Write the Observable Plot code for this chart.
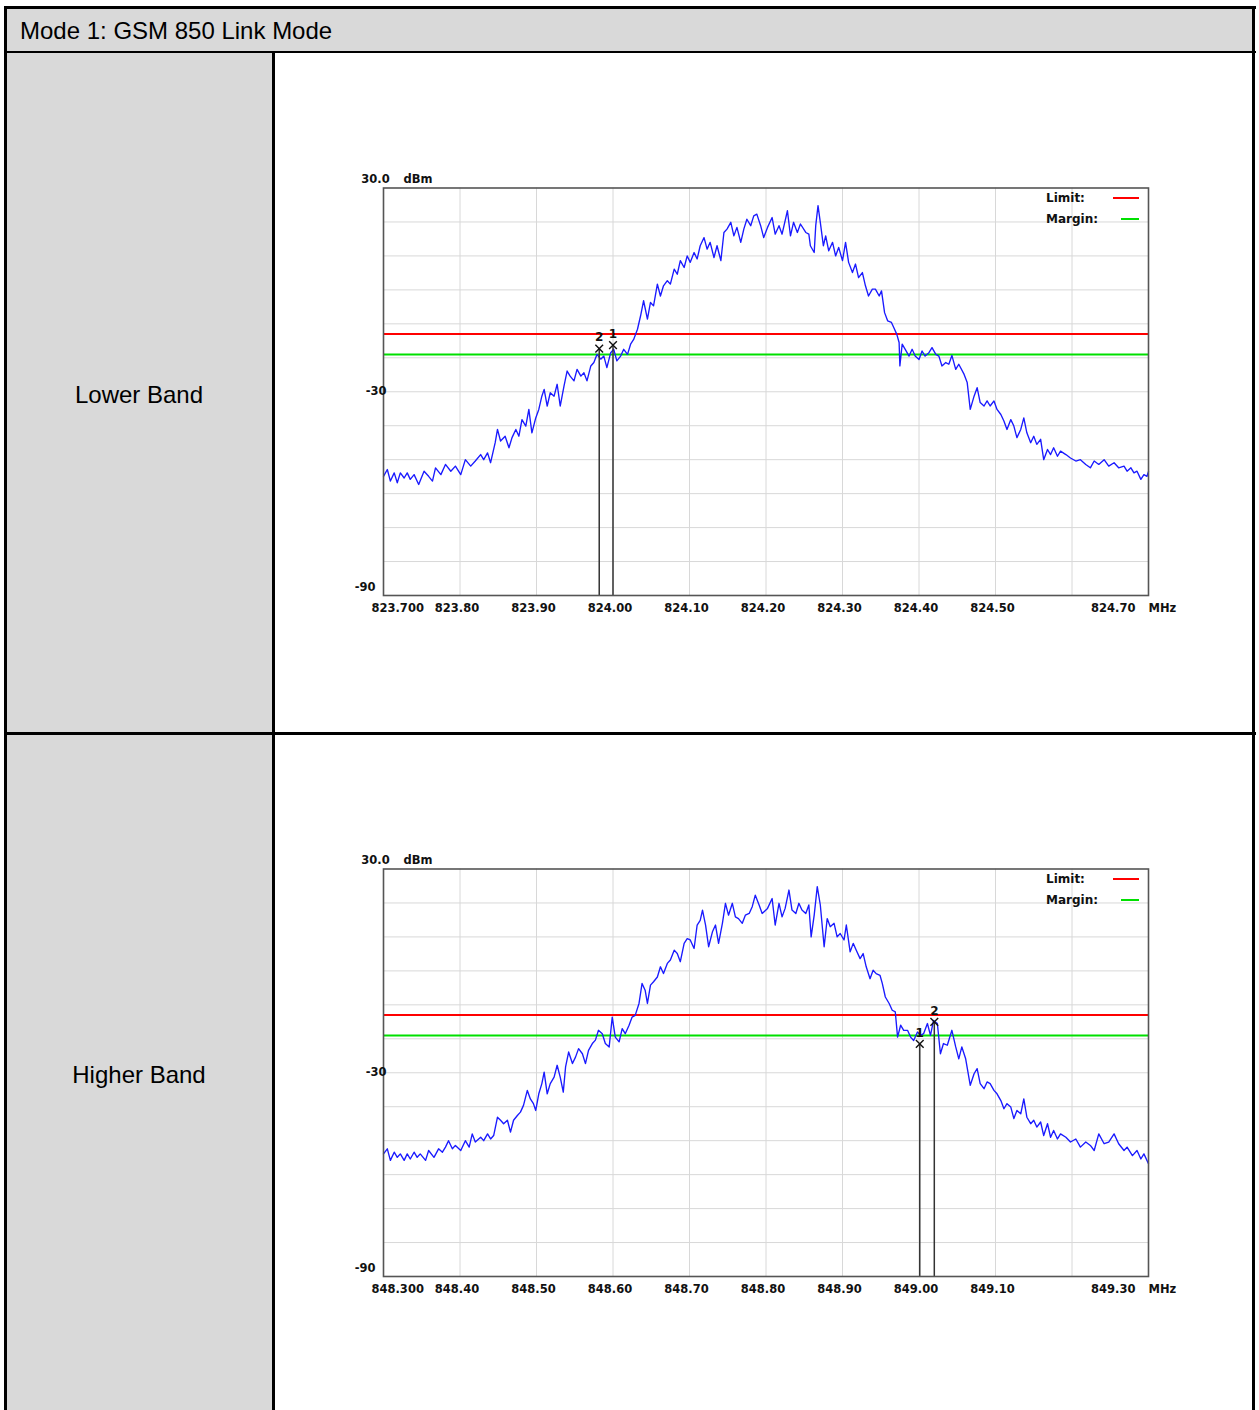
<!DOCTYPE html>
<html>
<head>
<meta charset="utf-8">
<script src="https://cdn.jsdelivr.net/npm/d3@7"></script>
<script src="https://cdn.jsdelivr.net/npm/@observablehq/plot@0.6"></script>
<style>
  html, body { margin: 0; padding: 0; background: #fff; }
  #page { position: relative; width: 1259px; height: 1410px; overflow: hidden; background: #fff; font-family: "Liberation Sans", Arial, sans-serif; }
  .abs { position: absolute; }
  .gray { background: #d9d9d9; }
  .bar { position: absolute; background: #000; }
  .cellText { position: absolute; font-size: 24px; color: #000; white-space: nowrap; transform: translate(-50%, -50%); }
  .legend { position: absolute; font-family: "DejaVu Sans", sans-serif; font-weight: bold; font-size: 12px; color: #111; white-space: nowrap; transform: translateY(-50%); }
  .legline { position: absolute; height: 2px; }
  svg { overflow: visible; }
</style>
</head>
<body>
<div id="page"></div>
<script>
// ---------- data ----------
const title = "Mode 1: GSM 850 Link Mode";
const rowLabels = ["Lower Band", "Higher Band"];
const limitLevel = -13;   // dBm, red
const marginLevel = -19;  // dBm, green
const yTopLabel = "30.0";
const yUnit = "dBm";
const yTickLabels = [["-30", -30], ["-90", -90]];

const lowerStart = 823.7;
const lowerTickLabels = ["823.700","823.80","823.90","824.00","824.10","824.20","824.30","824.40","824.50","824.70"];
const higherStart = 848.3;
const higherTickLabels = ["848.300","848.40","848.50","848.60","848.70","848.80","848.90","849.00","849.10","849.30"];

const lowerMarkers = [{n: "1", f: 824.000, level: -16.3}, {n: "2", f: 823.982, level: -17.3}];
const higherMarkers = [{n: "1", f: 849.001, level: -21.5}, {n: "2", f: 849.020, level: -15.0}];

const lowerBand = [
[823.700,-54.9],[823.705,-52.9],[823.709,-56.3],[823.714,-53.9],[823.718,-56.8],[823.722,-53.9],[823.727,-55.4],[823.731,-53.9],
[823.735,-55.8],[823.740,-54.4],[823.746,-57.3],[823.753,-53.4],[823.759,-54.9],[823.764,-56.3],[823.768,-52.4],[823.775,-54.4],
[823.781,-51.4],[823.788,-53.4],[823.794,-51.9],[823.801,-54.4],[823.807,-50.0],[823.814,-51.9],[823.820,-50.4],[823.827,-48.5],
[823.831,-50.0],[823.836,-48.0],[823.840,-50.9],[823.846,-45.0],[823.849,-41.1],[823.853,-44.5],[823.859,-43.1],[823.864,-46.5],
[823.868,-43.5],[823.873,-41.1],[823.877,-43.1],[823.881,-38.2],[823.886,-40.1],[823.890,-35.2],[823.894,-42.1],[823.899,-37.7],
[823.903,-35.2],[823.907,-31.3],[823.910,-29.3],[823.914,-34.2],[823.918,-30.3],[823.923,-31.3],[823.927,-27.8],[823.931,-34.2],
[823.936,-28.3],[823.940,-23.9],[823.944,-25.4],[823.949,-26.8],[823.953,-23.4],[823.958,-25.4],[823.962,-24.4],[823.966,-26.8],
[823.971,-22.4],[823.975,-21.4],[823.979,-19.0],[823.984,-20.4],[823.988,-19.5],[823.992,-22.9],[823.997,-18.5],[824.001,-17.5],
[824.005,-20.9],[824.010,-19.5],[824.014,-17.5],[824.019,-19.0],[824.023,-16.0],[824.027,-14.6],[824.032,-11.6],[824.036,-7.7],
[824.040,-3.2],[824.045,-8.6],[824.049,-3.7],[824.053,-4.7],[824.058,1.7],[824.062,-1.8],[824.066,1.2],[824.071,2.7],
[824.075,1.7],[824.080,6.1],[824.084,4.6],[824.088,8.6],[824.093,6.6],[824.097,10.0],[824.101,8.1],[824.106,11.0],
[824.110,9.1],[824.114,13.0],[824.119,15.4],[824.123,12.0],[824.127,14.0],[824.132,9.5],[824.136,13.0],[824.141,8.6],
[824.145,16.9],[824.149,17.9],[824.154,19.9],[824.158,15.9],[824.162,18.4],[824.167,14.0],[824.171,17.9],[824.175,20.8],
[824.180,18.9],[824.184,21.8],[824.188,22.3],[824.193,18.9],[824.197,15.4],[824.202,18.4],[824.208,21.3],[824.212,16.4],
[824.217,18.9],[824.221,16.4],[824.228,23.3],[824.232,15.9],[824.236,19.9],[824.241,16.9],[824.245,19.4],[824.252,16.9],
[824.256,16.4],[824.258,13.0],[824.263,11.0],[824.265,18.9],[824.268,24.8],[824.271,19.9],[824.275,13.0],[824.278,15.9],
[824.282,11.5],[824.287,14.0],[824.291,10.0],[824.295,12.5],[824.300,8.6],[824.304,14.0],[824.308,8.1],[824.313,5.1],
[824.317,7.6],[824.321,3.6],[824.326,5.1],[824.330,1.2],[824.334,-1.8],[824.339,0.2],[824.343,0.2],[824.348,-1.8],
[824.351,-0.3],[824.355,-6.7],[824.359,-9.1],[824.364,-9.6],[824.367,-11.1],[824.371,-13.1],[824.374,-15.5],[824.375,-22.4],
[824.378,-16.0],[824.382,-17.5],[824.387,-19.5],[824.391,-17.5],[824.395,-19.5],[824.400,-20.5],[824.404,-18.0],[824.408,-19.5],
[824.413,-18.5],[824.417,-17.0],[824.422,-19.0],[824.426,-19.5],[824.430,-22.4],[824.435,-21.4],[824.439,-21.9],[824.443,-19.3],
[824.448,-23.4],[824.452,-21.9],[824.459,-24.9],[824.463,-27.3],[824.467,-35.2],[824.472,-31.3],[824.476,-28.8],[824.480,-33.2],
[824.485,-34.2],[824.489,-32.7],[824.493,-34.2],[824.498,-32.7],[824.502,-35.2],[824.507,-36.7],[824.511,-38.6],[824.515,-41.1],
[824.520,-38.2],[824.524,-40.1],[824.528,-43.5],[824.533,-41.1],[824.537,-37.7],[824.541,-42.1],[824.546,-45.0],[824.550,-43.1],
[824.554,-45.5],[824.559,-44.0],[824.563,-50.0],[824.568,-47.0],[824.572,-48.5],[824.576,-46.5],[824.581,-49.0],[824.585,-47.5],
[824.592,-48.5],[824.598,-49.5],[824.605,-50.4],[824.611,-50.0],[824.618,-51.4],[824.624,-52.4],[824.629,-50.4],[824.635,-51.4],
[824.642,-50.0],[824.648,-51.9],[824.655,-50.9],[824.661,-52.4],[824.668,-51.9],[824.672,-53.4],[824.677,-52.4],[824.681,-53.9],
[824.685,-53.4],[824.690,-55.8],[824.694,-54.4],[824.698,-54.9],[824.700,-53.5]
];

const higherBand = [
[848.300,-53.9],[848.305,-52.4],[848.309,-55.8],[848.314,-53.4],[848.318,-54.9],[848.322,-53.9],[848.327,-55.8],[848.331,-53.9],
[848.335,-55.4],[848.340,-53.4],[848.344,-54.9],[848.348,-53.9],[848.355,-55.8],[848.359,-52.9],[848.366,-54.9],[848.372,-52.4],
[848.377,-53.4],[848.381,-51.9],[848.385,-50.0],[848.390,-52.4],[848.394,-51.4],[848.401,-52.9],[848.407,-50.0],[848.412,-51.9],
[848.416,-48.0],[848.420,-50.4],[848.427,-49.0],[848.431,-50.0],[848.436,-48.0],[848.440,-49.5],[848.444,-48.5],[848.449,-43.1],
[848.453,-44.0],[848.457,-45.0],[848.462,-44.0],[848.466,-47.5],[848.470,-44.0],[848.475,-42.6],[848.479,-41.6],[848.483,-39.6],
[848.488,-35.2],[848.492,-37.7],[848.496,-39.1],[848.499,-41.1],[848.503,-36.2],[848.507,-33.2],[848.510,-29.8],[848.514,-36.2],
[848.518,-33.2],[848.523,-31.3],[848.527,-27.8],[848.531,-31.3],[848.535,-35.7],[848.538,-28.3],[848.542,-23.9],[848.547,-27.3],
[848.551,-25.4],[848.555,-22.9],[848.560,-24.4],[848.564,-27.3],[848.568,-23.4],[848.573,-21.4],[848.577,-20.4],[848.581,-17.5],
[848.586,-18.5],[848.590,-21.4],[848.595,-22.4],[848.599,-13.6],[848.603,-19.5],[848.608,-20.9],[848.612,-17.0],[848.616,-18.5],
[848.621,-16.0],[848.625,-13.6],[848.629,-13.1],[848.634,-9.6],[848.638,-3.7],[848.642,-5.7],[848.645,-9.6],[848.649,-4.2],
[848.653,-3.2],[848.658,-1.8],[848.662,1.2],[848.666,-0.8],[848.671,2.2],[848.675,3.2],[848.680,6.1],[848.684,5.1],
[848.688,2.7],[848.693,8.1],[848.697,9.5],[848.701,9.1],[848.706,6.6],[848.710,13.5],[848.714,14.9],[848.717,17.9],
[848.721,13.5],[848.725,7.1],[848.730,11.5],[848.734,13.5],[848.738,8.1],[848.743,14.0],[848.747,19.9],[848.751,16.4],
[848.756,19.9],[848.760,15.9],[848.764,15.4],[848.769,14.0],[848.773,16.4],[848.778,16.9],[848.782,18.9],[848.786,22.3],
[848.791,19.4],[848.795,16.9],[848.802,18.4],[848.808,21.3],[848.812,13.5],[848.817,19.9],[848.821,15.9],[848.825,18.4],
[848.830,23.8],[848.834,17.9],[848.839,16.9],[848.843,19.9],[848.847,17.9],[848.852,16.9],[848.856,19.4],[848.859,10.0],
[848.863,16.4],[848.867,24.8],[848.871,19.4],[848.876,7.1],[848.880,15.4],[848.884,13.0],[848.889,14.0],[848.893,10.0],
[848.897,11.0],[848.902,9.1],[848.905,13.5],[848.910,5.6],[848.914,8.1],[848.918,6.1],[848.923,3.6],[848.927,5.1],
[848.931,1.2],[848.936,-2.3],[848.940,0.2],[848.944,-0.8],[848.949,-1.3],[848.952,-3.7],[848.956,-7.7],[848.961,-9.6],
[848.965,-11.6],[848.969,-12.1],[848.972,-19.5],[848.976,-16.0],[848.980,-17.5],[848.985,-17.5],[848.989,-19.5],[848.993,-20.5],
[848.998,-18.0],[849.002,-19.0],[849.006,-18.5],[849.011,-15.5],[849.015,-19.0],[849.019,-14.6],[849.024,-15.5],[849.028,-24.4],
[849.032,-21.4],[849.037,-21.9],[849.043,-17.5],[849.048,-22.4],[849.052,-25.9],[849.056,-22.4],[849.061,-25.9],[849.067,-33.7],
[849.072,-30.3],[849.076,-28.8],[849.080,-33.2],[849.085,-34.7],[849.089,-32.7],[849.093,-33.2],[849.098,-35.2],[849.102,-36.2],
[849.107,-38.2],[849.111,-40.6],[849.115,-39.1],[849.120,-40.1],[849.124,-43.5],[849.128,-41.1],[849.133,-42.1],[849.137,-37.7],
[849.141,-43.1],[849.146,-45.0],[849.150,-44.0],[849.154,-46.0],[849.159,-44.5],[849.163,-48.5],[849.168,-45.0],[849.172,-49.0],
[849.176,-47.0],[849.181,-49.5],[849.185,-48.0],[849.192,-49.0],[849.198,-50.4],[849.205,-49.5],[849.211,-51.9],[849.218,-50.4],
[849.224,-51.4],[849.229,-52.9],[849.235,-48.0],[849.242,-50.9],[849.248,-50.4],[849.255,-48.0],[849.261,-50.9],[849.268,-52.9],
[849.272,-51.9],[849.279,-54.4],[849.285,-52.9],[849.290,-55.4],[849.294,-53.9],[849.300,-56.8]
];

// ---------- layout ----------
const page = document.getElementById("page");
function box(cls, l, t, w, h, extra) {
  const d = document.createElement("div");
  d.className = cls;
  Object.assign(d.style, {left: l + "px", top: t + "px", width: w + "px", height: h + "px"}, extra || {});
  page.appendChild(d);
  return d;
}
// gray cells
box("abs gray", 5, 7, 1249, 45);
box("abs gray", 5, 52, 268, 1400);
// borders
box("bar", 4, 6, 1252, 2.5);
box("bar", 4, 50.5, 1252, 2.5);
box("bar", 4, 732, 1252, 2.5);
box("bar", 3.5, 6, 3, 1410);
box("bar", 271.5, 50.5, 3, 1410);
box("bar", 1252, 6, 2.5, 1410);

const t = document.createElement("div");
t.className = "abs";
Object.assign(t.style, {left: "20px", top: "17px", fontSize: "24px", whiteSpace: "nowrap", lineHeight: "28px"});
t.textContent = title;
page.appendChild(t);

[395, 1075].forEach((y, i) => {
  const d = document.createElement("div");
  d.className = "cellText";
  d.style.left = "139px";
  d.style.top = y + "px";
  d.textContent = rowLabels[i];
  page.appendChild(d);
});

// ---------- charts ----------
const labelStyle = {fontFamily: "DejaVu Sans, sans-serif", fontWeight: "bold", fontSize: "11.5px"};

function chart(band, start, tickLabels, markers, top) {
  const vGrid = d3.range(1, 10).map(i => +(start + i * 0.1).toFixed(2));
  const hGrid = d3.range(-80, 30, 10);
  const ticks = tickLabels.map((s, i) => ({
    label: s,
    x: i === tickLabels.length - 1 ? start + 1 : parseFloat(s),
    anchor: i === 0 ? "start" : (i === tickLabels.length - 1 ? "end" : "middle")
  }));
  const data = band.map(([f, v]) => ({f, v}));
  const plot = Plot.plot({
    width: 860, height: 460,
    marginLeft: 43, marginRight: 52, marginTop: 22.5, marginBottom: 30,
    style: {background: "transparent", overflow: "visible", ...labelStyle},
    x: {domain: [start, start + 1], axis: null},
    y: {domain: [-90, 30], axis: null},
    marks: [
      Plot.ruleX(vGrid, {stroke: "#d8d8d8", strokeWidth: 1}),
      Plot.ruleY(hGrid, {stroke: "#d8d8d8", strokeWidth: 1}),
      Plot.ruleY([limitLevel], {stroke: "#ff0000", strokeWidth: 2}),
      Plot.ruleY([marginLevel], {stroke: "#00e000", strokeWidth: 2}),
      Plot.line(data, {x: "f", y: "v", stroke: "#1a1aff", strokeWidth: 1.35}),
      Plot.ruleX(markers, {x: "f", y1: "level", y2: -90, stroke: "#333", strokeWidth: 1.5}),
      Plot.dot(markers, {x: "f", y: "level", symbol: "times", r: 3.6, stroke: "#111", strokeWidth: 1.4}),
      Plot.text(markers, {x: "f", y: "level", text: "n", dy: -11, fill: "#111", fontSize: 12}),
      Plot.frame({stroke: "#555", strokeWidth: 1.6}),
      Plot.text(ticks.filter(d => d.anchor === "middle"), {x: "x", y: -90, text: "label", dy: 13, dx: -3, textAnchor: "middle", fill: "#111"}),
      Plot.text(ticks.filter(d => d.anchor === "start"), {x: "x", y: -90, text: "label", dy: 13, dx: -12, textAnchor: "start", fill: "#111"}),
      Plot.text(ticks.filter(d => d.anchor === "end"), {x: "x", y: -90, text: "label", dy: 13, dx: -13, textAnchor: "end", fill: "#111"}),
      Plot.text(["MHz"], {x: start + 1, y: -90, text: d => d, dy: 13, dx: 0, textAnchor: "start", fill: "#111"}),
      Plot.text([yTopLabel], {x: start, y: 30, text: d => d, dy: -9, dx: -8, textAnchor: "middle", fill: "#111"}),
      Plot.text([yUnit], {x: start, y: 30, text: d => d, dy: -9, dx: 20, textAnchor: "start", fill: "#111"}),
      Plot.text(yTickLabels.slice(0, 1), {x: start, y: d => d[1], text: d => d[0], dx: 3, textAnchor: "end", fill: "#111"}),
      Plot.text(yTickLabels.slice(1), {x: start, y: d => d[1], text: d => d[0], dx: -8, dy: -8, textAnchor: "end", fill: "#111"})
    ]
  });
  const wrap = box("abs", 340, top, 860, 460);
  wrap.appendChild(plot);

  // legend (HTML overlay)
  const l1 = document.createElement("div");
  l1.className = "legend"; l1.textContent = "Limit:";
  Object.assign(l1.style, {left: "1046px", top: (top + 33) + "px"});
  page.appendChild(l1);
  const l2 = document.createElement("div");
  l2.className = "legend"; l2.textContent = "Margin:";
  Object.assign(l2.style, {left: "1046px", top: (top + 54) + "px"});
  page.appendChild(l2);
  box("legline", 1113, top + 32, 26, 2, {background: "#ff0000"});
  box("legline", 1121, top + 53, 18, 2, {background: "#00e000"});
}

chart(lowerBand, lowerStart, lowerTickLabels, lowerMarkers, 165);
chart(higherBand, higherStart, higherTickLabels, higherMarkers, 846);
</script>
</body>
</html>
